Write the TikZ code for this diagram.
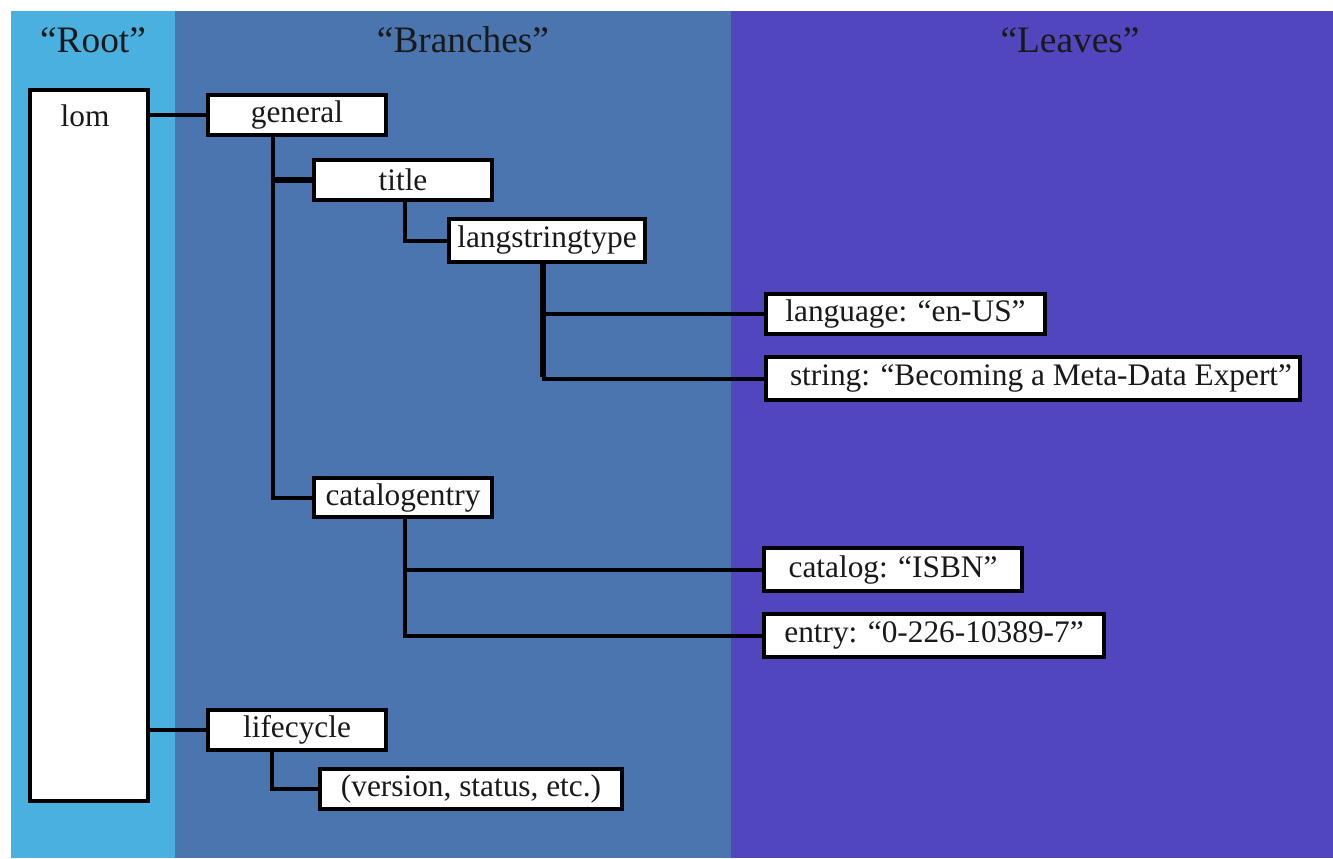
\documentclass[tikz,border=0pt]{standalone}
\usepackage{fontspec}
\setmainfont{Liberation Serif}
\definecolor{rootblue}{RGB}{73,176,224}
\definecolor{branchblue}{RGB}{74,117,174}
\definecolor{leafviolet}{RGB}{82,70,190}
\definecolor{ink}{RGB}{25,25,25}
\begin{document}
\begin{tikzpicture}[x=0.75pt,y=-0.75pt,
  box/.style={draw=black, line width=3pt, fill=white, inner sep=0pt,
    font=\fontsize{23.5}{26}\selectfont, text=ink},
  wh/.style 2 args={minimum width={#1*0.75pt-3pt}, minimum height={#2*0.75pt-3pt}},
  link/.style={draw=black, line width=3pt},
  boldlink/.style={draw=black, line width=4.5pt},
  heading/.style={font=\fontsize{28}{32}\selectfont, text=ink}]
\useasboundingbox (0,0) rectangle (1333,858);
\fill[white] (0,0) rectangle (1333,858);
% the three columns
\fill[rootblue]   (11,11)  rectangle (175,858);
\fill[branchblue] (175,11) rectangle (731,858);
\fill[leafviolet] (731,11) rectangle (1333,858);
\node[heading] (hroot)   at (93,40)   {“Root”};
\node[heading] (hbranch) at (463,40)  {“Branches”};
\node[heading] (hleaf)   at (1070,40) {“Leaves”};

% root
\node[box, wh={122}{715}] (lom) at (89,445.5) {};
\node[font=\fontsize{23.5}{26}\selectfont, text=ink] (lomlabel) at (85,116) {lom};

% branches
\node[box, wh={182}{44}] (general)      at (297,115)   {general};
\node[box, wh={182}{44}] (title)        at (403,180)   {title};
\node[box, wh={200}{47}] (lang)         at (547,240.5) {langstringtype};
\node[box, wh={182}{43}] (catalogentry) at (403,497.5) {catalogentry};
\node[box, wh={182}{44}] (lifecycle)    at (297,730)   {lifecycle};
\node[box, wh={306}{44}] (version)      at (471,789)   {(version, status, etc.)};

% leaves
\node[box, wh={283}{44}] (language) at (905.5,314)  {language: “en-US”};
\node[box, wh={538}{47}] (string)   at (1033,378.5) {\hspace*{12pt}string: “Becoming a Meta-Data Expert”};
\node[box, wh={262}{47}] (catalog)  at (893,569.5)  {catalog: “ISBN”};
\node[box, wh={344}{47}] (entry)    at (934,635.5)  {entry: “0-226-10389-7”};

% connectors
\draw[link] (general.west) -- (general.west -| lom.east);
\draw[link] (lifecycle.west) -- (lifecycle.west -| lom.east);
\draw[link] (general.south west) ++(67,0) coordinate (gtrunk) |- (catalogentry.west);
\draw[boldlink] (title.west) -- (title.west -| gtrunk);
\draw[link] (title.south) ++(2,0) coordinate (ttrunk) |- (lang.west);
\path (lang.south) ++(-4,0) coordinate (ltrunk);
\draw[boldlink] (ltrunk) -- ([yshift=1.1pt]string.west -| ltrunk);
\draw[link] (language.west) -- (language.west -| ltrunk);
\draw[link] (string.west) -- ([xshift=-1.1pt]string.west -| ltrunk);
\draw[link] (catalogentry.south) ++(2,0) coordinate (ctrunk) |- (entry.west);
\draw[link] (catalog.west) -- (catalog.west -| ctrunk);
\draw[link] (lifecycle.south west) ++(66,0) coordinate (ftrunk) |- (version.west);
\end{tikzpicture}
\end{document}
